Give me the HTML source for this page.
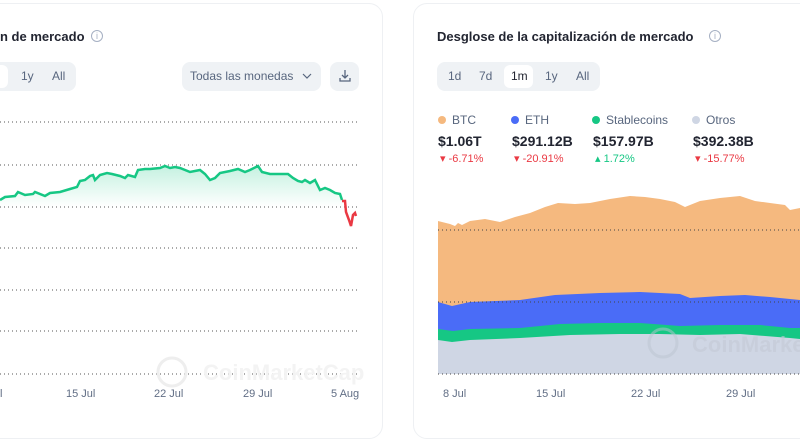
<!DOCTYPE html>
<html><head><meta charset="utf-8"><style>
body{margin:0;width:800px;height:445px;overflow:hidden;background:#fff;font-family:"Liberation Sans",sans-serif;position:relative}
.card{position:absolute;top:3px;height:434px;border:1px solid #eef0f3;border-radius:14px;background:#fff}
.t{position:absolute;color:#222531;font-weight:bold;font-size:13px}
.g{position:absolute;background:#eff2f5;border-radius:8px}
.s{position:absolute;font-size:12px;color:#58667e}
.info{position:absolute;width:10px;height:10px;border:1px solid #a6b0c3;border-radius:50%;font-size:9px;color:#a6b0c3;text-align:center;line-height:10px}
.xl{position:absolute;top:388px;font-size:11px;color:#616e85}
.lg{position:absolute;top:113px;font-size:12px;color:#58667e}
.dot{display:inline-block;width:8px;height:8px;border-radius:50%;margin-right:6px;vertical-align:0}
.v{position:absolute;top:133px;font-size:14px;font-weight:bold;color:#222531}
.p{position:absolute;top:152px;font-size:11px}
</style></head><body>
<div class="card" style="left:-20px;width:401px"></div>
<div class="card" style="left:413px;width:420px"></div>

<div class="t" style="left:0;top:29px">n de mercado</div>
<div class="info" style="left:91px;top:30px">i</div>
<div class="g" style="left:-10px;top:62px;width:86px;height:29px"></div>
<div style="position:absolute;left:-20px;top:65px;width:28px;height:23px;background:#fff;border-radius:6px"></div>
<div class="s" style="left:21px;top:69px">1y</div>
<div class="s" style="left:52px;top:69px">All</div>
<div class="g" style="left:182px;top:62px;width:139px;height:29px"></div>
<div class="s" style="left:190px;top:69px">Todas las monedas</div>
<svg style="position:absolute;left:302px;top:73px" width="10" height="7"><path d="M1 1L5 5L9 1" stroke="#58667e" fill="none" stroke-width="1.2"/></svg>
<div class="g" style="left:330px;top:62px;width:29px;height:29px"></div>
<svg style="position:absolute;left:338px;top:69px" width="14" height="14"><path d="M7 1V9M4 6L7 9L10 6M2 9V12H12V9" stroke="#58667e" fill="none" stroke-width="1.3"/></svg>

<svg style="position:absolute;left:0;top:0" width="400" height="445">
<defs><linearGradient id="gg" x1="0" y1="0" x2="0" y2="1"><stop offset="0" stop-color="#16c784" stop-opacity="0.25"/><stop offset="1" stop-color="#16c784" stop-opacity="0"/></linearGradient></defs>
<g stroke="#555" stroke-dasharray="1 3" stroke-width="1">
<line x1="0" y1="122" x2="360" y2="122"/><line x1="0" y1="165" x2="360" y2="165"/><line x1="0" y1="207" x2="360" y2="207"/><line x1="0" y1="248" x2="360" y2="248"/><line x1="0" y1="290" x2="360" y2="290"/><line x1="0" y1="331" x2="360" y2="331"/><line x1="0" y1="374" x2="360" y2="374"/></g>
<polygon fill="url(#gg)" points="0,207 0,200 5,197 15,196 18,192 25,195 33,194 35,192 45,196 50,193 60,192 70,189 77,187 80,181 85,180 90,176 93,175 95,180 100,175 107,173 112,174 120,176 125,178 128,175 135,177 138,170 145,169 150,169 160,168 165,166 170,168 175,167 180,168 190,172 200,170 205,174 210,180 215,178 220,173 230,171 238,169 245,172 250,170 258,166 262,172 270,174 280,174 288,174 293,178 298,181 302,182 305,180 310,183 315,180 320,190 325,188 330,190 335,193 340,194 342,198 342,207"/>
<polyline fill="none" stroke="#16c784" stroke-width="2.5" points="0,200 5,197 15,196 18,192 25,195 33,194 35,192 45,196 50,193 60,192 70,189 77,187 80,181 85,180 90,176 93,175 95,180 100,175 107,173 112,174 120,176 125,178 128,175 135,177 138,170 145,169 150,169 160,168 165,166 170,168 175,167 180,168 190,172 200,170 205,174 210,180 215,178 220,173 230,171 238,169 245,172 250,170 258,166 262,172 270,174 280,174 288,174 293,178 298,181 302,182 305,180 310,183 315,180 320,190 325,188 330,190 335,193 340,194 342,200"/>
<polyline fill="none" stroke="#ea3943" stroke-width="2.5" points="342,201 345,201 346,212 349,220 351,226 353,215 355,213 356,216"/>
<circle cx="172" cy="372" r="14" fill="none" stroke="#eeeeee" stroke-width="3"/>
<text x="203" y="380" font-size="22" font-weight="bold" fill="#f3f3f3" font-family="Liberation Sans">CoinMarketCap</text>
</svg>
<div class="xl" style="left:0">l</div>
<div class="xl" style="left:66px">15 Jul</div>
<div class="xl" style="left:154px">22 Jul</div>
<div class="xl" style="left:243px">29 Jul</div>
<div class="xl" style="left:331px">5 Aug</div>

<div class="t" style="left:437px;top:29px">Desglose de la capitalización de mercado</div>
<div class="info" style="left:709px;top:30px">i</div>
<div class="g" style="left:437px;top:62px;width:163px;height:29px"></div>
<div style="position:absolute;left:504px;top:65px;width:29px;height:23px;background:#fff;border-radius:6px"></div>
<div class="s" style="left:448px;top:69px">1d</div>
<div class="s" style="left:479px;top:69px">7d</div>
<div class="s" style="left:511px;top:69px;color:#222531">1m</div>
<div class="s" style="left:545px;top:69px">1y</div>
<div class="s" style="left:576px;top:69px">All</div>

<div class="lg" style="left:438px"><span class="dot" style="background:#f5b97f"></span>BTC</div>
<div class="lg" style="left:511px"><span class="dot" style="background:#4a6cf7"></span>ETH</div>
<div class="lg" style="left:592px"><span class="dot" style="background:#16c784"></span>Stablecoins</div>
<div class="lg" style="left:692px"><span class="dot" style="background:#cfd6e4"></span>Otros</div>
<div class="v" style="left:438px">$1.06T</div>
<div class="v" style="left:512px">$291.12B</div>
<div class="v" style="left:593px">$157.97B</div>
<div class="v" style="left:693px">$392.38B</div>
<div class="p" style="left:440px;color:#ea3943">▾ -6.71%</div>
<div class="p" style="left:514px;color:#ea3943">▾ -20.91%</div>
<div class="p" style="left:595px;color:#16c784">▴ 1.72%</div>
<div class="p" style="left:695px;color:#ea3943">▾ -15.77%</div>

<svg style="position:absolute;left:0;top:0" width="800" height="445">
<polygon fill="#f5b97f" points="438,374 438,221 450,224 455,226 458,223 462,225 470,221 485,219 500,222 515,217 530,213 545,207 558,203 575,204 590,203 610,199 630,196 645,197 660,199 675,202 685,207 700,201 720,198 740,196 755,201 770,203 785,205 790,210 800,208 800,374"/>
<polygon fill="#4a6cf7" points="438,374 438,302 452,306 470,302 520,300 555,295 600,293 640,292 680,294 690,298 720,296 745,295 770,297 790,299 800,300 800,374"/>
<polygon fill="#16c784" points="438,374 438,329 453,331 470,329 520,328 560,324 600,323 640,323 680,326 720,325 760,325 790,328 800,328 800,374"/>
<polygon fill="#cfd6e4" points="438,374 438,340 452,342 470,340 520,338 570,335 620,334 660,334 700,335 740,334 790,338 800,339 800,374"/>
<g stroke="#444" stroke-dasharray="1 3" stroke-width="1"><line x1="438" y1="230" x2="800" y2="230"/><line x1="438" y1="302" x2="800" y2="302"/><line x1="438" y1="374" x2="800" y2="374"/></g>
<circle cx="663" cy="343" r="14" fill="none" stroke="#bcc3d0" stroke-width="3" opacity="0.5"/>
<text x="692" y="352" font-size="22" font-weight="bold" fill="#c4cad6" opacity="0.6" font-family="Liberation Sans">CoinMarketCap</text>
</svg>
<div class="xl" style="left:443px">8 Jul</div>
<div class="xl" style="left:536px">15 Jul</div>
<div class="xl" style="left:631px">22 Jul</div>
<div class="xl" style="left:726px">29 Jul</div>
</body></html>
